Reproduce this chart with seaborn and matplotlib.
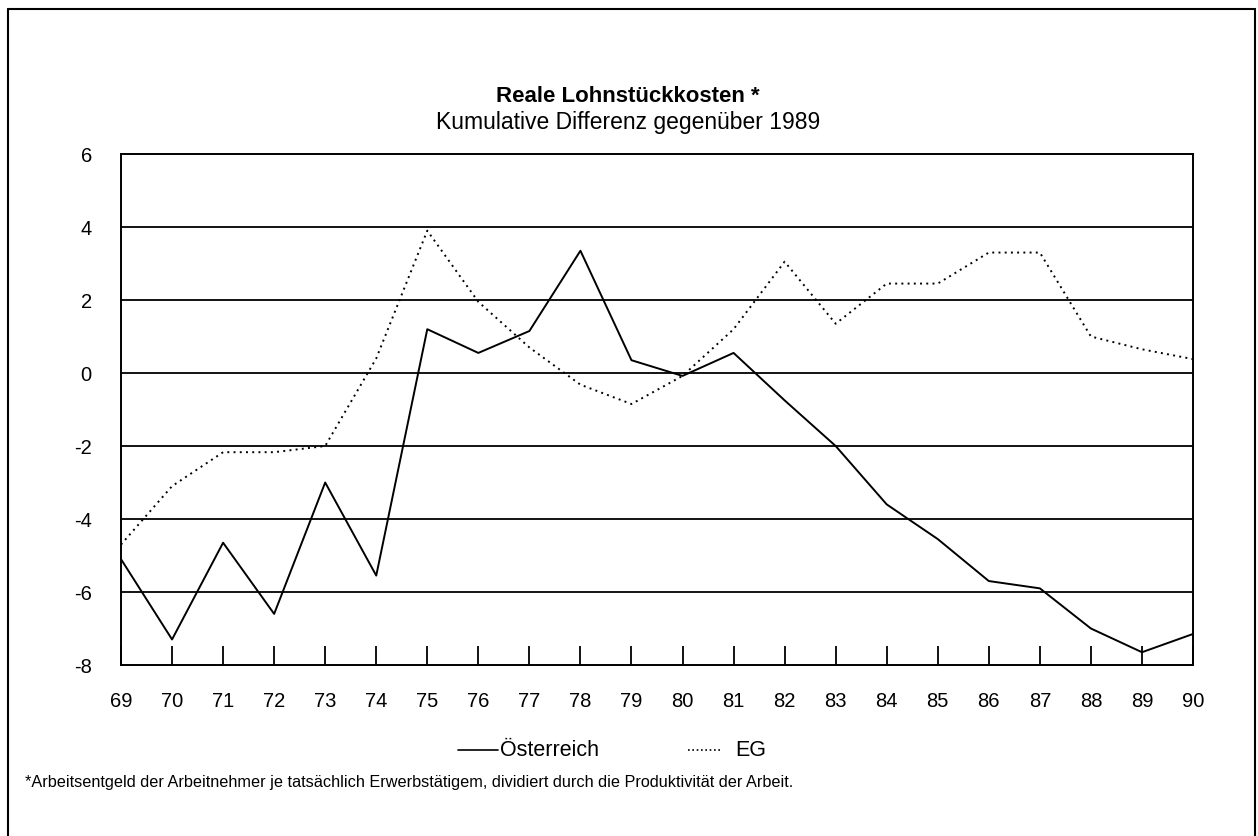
import matplotlib
matplotlib.use("Agg")
import matplotlib.pyplot as plt
from matplotlib.lines import Line2D
import seaborn as sns
import pandas as pd

years = list(range(69, 91))
year_labels = [str(y) for y in years]
oesterreich = [-5.1, -7.3, -4.65, -6.6, -3.0, -5.55, 1.2, 0.55, 1.15, 3.35, 0.35,
               -0.08, 0.55, -0.75, -2.0, -3.6, -4.55, -5.7, -5.9, -7.0, -7.65, -7.15]
eg = [-4.7, -3.1, -2.17, -2.17, -2.0, 0.4, 3.9, 1.95, 0.7, -0.32, -0.85,
      -0.08, 1.2, 3.05, 1.35, 2.45, 2.45, 3.3, 3.3, 1.0, 0.65, 0.38]
series_names = ["Österreich", "EG"]
y_ticks = [6, 4, 2, 0, -2, -4, -6, -8]

title = "Reale Lohnstückkosten *"
subtitle = "Kumulative Differenz gegenüber 1989"
footnote = ("*Arbeitsentgeld der Arbeitnehmer je tatsächlich Erwerbstätigem, "
            "dividiert durch die Produktivität der Arbeit.")

df = pd.DataFrame({
    "Jahr": years * 2,
    "Wert": oesterreich + eg,
    "Reihe": [series_names[0]] * len(years) + [series_names[1]] * len(years),
})

sns.set_theme(style="white")
plt.rcParams["font.family"] = ["Liberation Sans", "DejaVu Sans"]
plt.rcParams["axes.unicode_minus"] = False

W, H = 1258, 837
fig = plt.figure(figsize=(W / 100, H / 100), dpi=100)
ax = fig.add_axes([121 / W, 1 - 666 / H, (1193 - 121) / W, (666 - 155) / H])

sns.lineplot(data=df, x="Jahr", y="Wert", style="Reihe", color="black",
             dashes={series_names[0]: "", series_names[1]: (1, 2.2)},
             linewidth=1.4, ax=ax, legend=False)

ax.set_xlim(69, 90)
ax.set_ylim(-8, 6)
ax.set_xticks(years)
ax.set_xticklabels(year_labels)
ax.set_yticks(y_ticks)
ax.set_xlabel("")
ax.set_ylabel("")
for v in y_ticks[1:-1]:
    ax.axhline(v, color="black", lw=1.3, zorder=0)
for s in ax.spines.values():
    s.set_visible(True)
    s.set_color("black")
    s.set_linewidth(1.4)
ax.tick_params(axis="x", direction="in", length=14, width=1.3, color="black",
               labelsize=14.5, pad=19, bottom=True)
ax.tick_params(axis="y", length=0, labelsize=14.5, pad=21)
for lab in ax.get_xticklabels() + ax.get_yticklabels():
    lab.set_color("black")

fig.text(628 / W, 1 - 97 / H, title, ha="center", va="center",
         fontsize=16, fontweight="bold", color="black")
fig.text(628 / W, 1 - 122 / H, subtitle, ha="center", va="center",
         fontsize=16.5, color="black")

# legend
ly = 1 - 751 / H
fig.add_artist(Line2D([458 / W, 498 / W], [ly, ly], color="black", lw=1.2,
                      transform=fig.transFigure))
fig.text(500 / W, ly, series_names[0], ha="left", va="center", fontsize=15.5, color="black")
fig.add_artist(Line2D([688 / W, 720 / W], [ly, ly], color="black", lw=1.2,
                      linestyle=(0, (1, 1.6)), transform=fig.transFigure))
fig.text(735 / W, ly, series_names[1], ha="left", va="center", fontsize=15.5, color="black")

fig.text(25 / W, 1 - 783 / H, footnote, ha="left", va="center",
         fontsize=11.7, color="black")

for xs, ys in [([8 / W, 8 / W], [0, 1 - 10 / H]),
               ([8 / W, 1255 / W], [1 - 10 / H, 1 - 10 / H]),
               ([1255 / W, 1255 / W], [1 - 10 / H, 0])]:
    fig.add_artist(Line2D(xs, ys, color="black", lw=1.5, transform=fig.transFigure))

fig.savefig("out.png", dpi=100, facecolor="white")
